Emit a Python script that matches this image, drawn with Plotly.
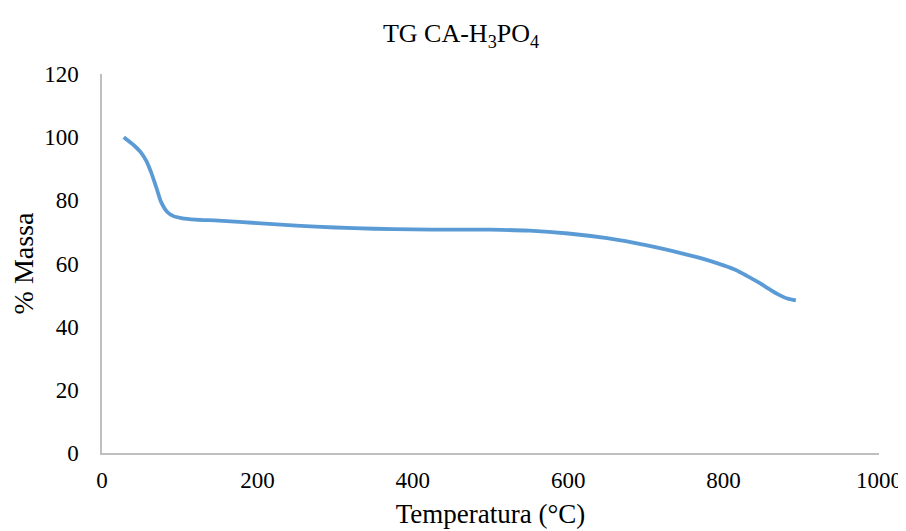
import plotly.graph_objects as go

temperatura = [28, 35, 42, 50, 57, 63, 70, 76, 84, 92, 102, 120, 150, 200, 250, 300, 350, 400, 450, 500, 550, 600, 650, 700, 750, 775, 800, 815, 830, 845, 860, 872, 882, 893]
massa = [100, 98.6, 97.2, 95.2, 92.5, 89, 84, 79.5, 76.3, 75.0, 74.4, 73.9, 73.6, 72.8, 72.0, 71.4, 71.0, 70.8, 70.7, 70.7, 70.4, 69.5, 68.0, 65.8, 63.0, 61.4, 59.4, 58.0, 56.1, 54.0, 51.7, 50.0, 48.9, 48.3]

x_ticks = [0, 200, 400, 600, 800, 1000]
y_ticks = [0, 20, 40, 60, 80, 100, 120]

fig = go.Figure()
fig.add_trace(go.Scatter(
    x=temperatura, y=massa, mode="lines",
    line=dict(color="#5B9BD5", width=3.8, shape="spline", smoothing=0.8),
    showlegend=False,
))

font = dict(family="Liberation Serif, Times New Roman, serif", color="#000000")
fig.update_layout(
    width=906, height=531,
    paper_bgcolor="white", plot_bgcolor="white",
    margin=dict(l=94, r=35, t=66, b=86),
    font=dict(size=23, **font),
    title=dict(text="TG CA-H<sub>3</sub>PO<sub>4</sub>", x=0.5, xanchor="center", y=0.953, yanchor="middle",
               font=dict(size=26, **font)),
)
fig.update_xaxes(
    range=[0, 1000], tickvals=x_ticks, showgrid=False, zeroline=False, automargin=False,
    showline=True, linecolor="#BFBFBF", linewidth=1.5,
    ticks="", ticklen=0, ticklabelstandoff=6,
    title=dict(text="Temperatura (°C)", font=dict(size=27, **font), standoff=12),
    tickfont=dict(size=23, **font),
)
fig.update_yaxes(
    range=[0, 120], tickvals=y_ticks, showgrid=False, zeroline=False, automargin=False,
    showline=True, linecolor="#BFBFBF", linewidth=1.5,
    ticks="", ticklen=0, ticklabelstandoff=17,
    title=dict(text="% Massa", font=dict(size=28, **font), standoff=8),
    tickfont=dict(size=23, **font),
)
fig.write_html("out.html")
